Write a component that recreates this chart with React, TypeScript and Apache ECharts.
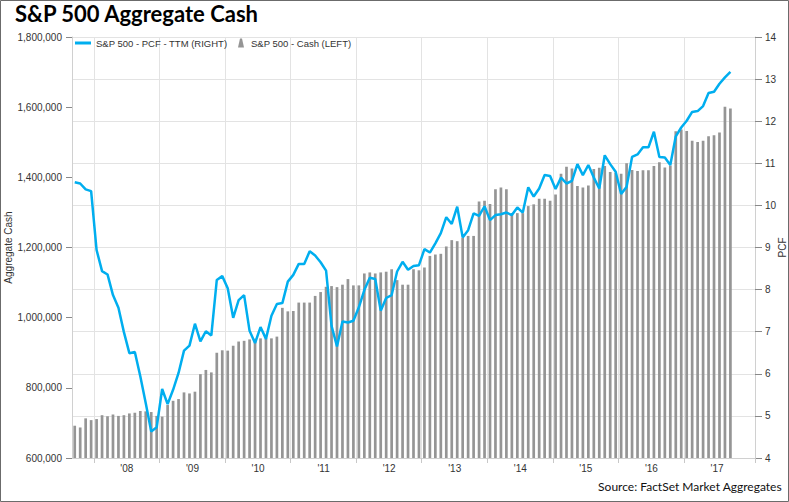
import React, { useEffect, useRef } from "react";
import * as echarts from "echarts";

// ---- Data ----
const START_YEAR = 2007;
const START_MONTH = 8; // 0-based: September 2007
const CATEGORY_COUNT = 125; // 121 monthly observations + padding to axis end

const months: string[] = [];
for (let i = 0; i < CATEGORY_COUNT; i++) {
  const m = (START_MONTH + i) % 12;
  const y = START_YEAR + Math.floor((START_MONTH + i) / 12);
  months.push(`${y}-${String(m + 1).padStart(2, "0")}`);
}

const yearLabels: Record<string, string> = {
  "2008": "'08", "2009": "'09", "2010": "'10", "2011": "'11", "2012": "'12",
  "2013": "'13", "2014": "'14", "2015": "'15", "2016": "'16", "2017": "'17",
};

const cashLeft: number[] = [
  692000, 687000, 713000, 708000, 711000, 722000, 719000, 724000, 720000, 722000,
  727000, 729000, 734000, 733000, 731000, 720000, 718000, 751000, 763000, 768000,
  787000, 784000, 789000, 839000, 851000, 844000, 900000, 907000, 906000, 920000,
  932000, 934000, 938000, 940000, 941000, 941000, 941000, 946000, 1028000, 1018000,
  1019000, 1043000, 1043000, 1043000, 1062000, 1073000, 1088000, 1090000, 1087000,
  1094000, 1110000, 1092000, 1092000, 1126000, 1129000, 1126000, 1129000, 1131000, 1138000,
  1107000, 1094000, 1094000, 1138000, 1135000, 1143000,
  1176000, 1180000, 1182000, 1203000, 1221000, 1218000, 1228000, 1233000, 1233000,
  1331000, 1333000, 1324000, 1366000, 1371000, 1366000,
  1295000, 1298000, 1298000, 1318000, 1323000, 1339000, 1339000,
  1333000, 1351000, 1410000, 1430000, 1425000, 1375000, 1371000, 1377000, 1424000, 1427000, 1432000,
  1415000, 1413000, 1410000, 1440000, 1421000, 1418000, 1420000, 1420000, 1432000, 1443000, 1428000, 1434000,
  1531000, 1536000, 1532000, 1504000, 1501000, 1504000, 1517000, 1520000, 1528000, 1601000, 1596000,
];

const pcfRight: number[] = [
  10.55, 10.52, 10.38, 10.34, 8.94, 8.44, 8.36, 7.87, 7.57, 6.99,
  6.49, 6.52, 5.94, 5.30, 4.63, 4.73, 5.64, 5.28, 5.62, 6.02,
  6.55, 6.67, 7.19, 6.77, 7.01, 6.91, 8.23, 8.32, 8.03, 7.33,
  7.75, 7.87, 7.02, 6.73, 7.11, 6.83, 7.38, 7.66, 7.68, 8.19,
  8.35, 8.61, 8.61, 8.91, 8.81, 8.65, 8.45, 7.14, 6.65, 7.24,
  7.22, 7.26, 7.58, 7.99, 8.28, 8.25, 7.50, 7.80, 7.87, 8.43,
  8.66, 8.47, 8.56, 8.58, 8.96, 8.88, 9.10, 9.34, 9.72, 9.56,
  9.97, 9.24, 9.41, 9.81, 9.75, 9.98, 9.65, 9.77, 9.79, 9.83,
  9.77, 9.95, 9.83, 10.43, 10.21, 10.40, 10.72, 10.70, 10.39, 10.66,
  10.52, 10.58, 10.98, 10.72, 10.96, 10.66, 10.40, 11.19, 10.98, 10.80,
  10.27, 10.44, 11.15, 11.21, 11.38, 11.38, 11.75, 11.15, 11.14, 10.96,
  11.64, 11.85, 12.01, 12.22, 12.24, 12.36, 12.67, 12.70, 12.89, 13.04,
  13.17,
];

const LINE_NAME = "S&P 500 - PCF - TTM (RIGHT)";
const BAR_NAME = "S&P 500 - Cash (LEFT)";
const TITLE = "S&P 500 Aggregate Cash";
const SOURCE = "Source: FactSet Market Aggregates";

const isYearStart = (i: number) => {
  const c = months[i];
  return !!c && c.endsWith("-01") && yearLabels[c.slice(0, 4)] !== undefined;
};
const isMidYear = (i: number) => {
  const c = months[i];
  return !!c && c.endsWith("-07") && yearLabels[c.slice(0, 4)] !== undefined;
};

const FONT = "'Liberation Sans', Arial, sans-serif";
const TITLE_FONT = "Lato, 'Open Sans', sans-serif";
const GRID = "#e3e3e3";

export default function App() {
  const ref = useRef<HTMLDivElement>(null);
  useEffect(() => {
    if (!ref.current) return;
    const chart = echarts.init(ref.current, undefined, { renderer: "svg" });
    chart.setOption({
      animation: false,
      backgroundColor: "#ffffff",
      title: [
        {
          text: TITLE,
          left: 15,
          top: 2,
          padding: 0,
          textStyle: { fontFamily: TITLE_FONT, fontWeight: "bold", fontSize: 22, color: "#000" },
        },
        {
          text: SOURCE,
          right: 7,
          top: 480,
          padding: 0,
          textStyle: { fontFamily: TITLE_FONT, fontWeight: "normal", fontSize: 12, color: "#111" },
        },
      ],
      graphic: [
        {
          type: "rect",
          shape: { x: 0.5, y: 0.5, width: 788, height: 501 },
          style: { fill: "none", stroke: "#6b6b6b", lineWidth: 1 },
          silent: true,
        },
      ],
      legend: [
        {
          left: 75,
          top: 38,
          padding: 0,
          data: [{ name: LINE_NAME, icon: "rect" }],
          itemWidth: 16,
          itemHeight: 3,
          textStyle: { fontFamily: FONT, fontSize: 9.5, color: "#333" },
        },
        {
          left: 238,
          top: 38,
          padding: 0,
          data: [{ name: BAR_NAME, icon: "path://M2,0 L4,0 L6,9 L0,9 Z" }],
          itemWidth: 10,
          itemHeight: 9,
          textStyle: { fontFamily: FONT, fontSize: 9.5, color: "#333" },
        },
      ],
      grid: { left: 72, right: 34, top: 37, bottom: 44, containLabel: false, outerBoundsMode: "none" },
      xAxis: {
        type: "category",
        data: months,
        boundaryGap: true,
        axisLine: { show: true, lineStyle: { color: "#d0d0d0" } },
        axisTick: { show: true, length: 5, interval: (i: number) => isYearStart(i), lineStyle: { color: "#c8c8c8" } },
        splitLine: { show: true, interval: (i: number) => isYearStart(i), lineStyle: { color: GRID } },
        axisLabel: {
          interval: (i: number) => isMidYear(i),
          formatter: (v: string) => yearLabels[v.slice(0, 4)] || "",
          fontFamily: FONT,
          fontSize: 10,
          color: "#333",
          margin: 5,
          padding: [0, 5, 0, 0],
        },
      },
      yAxis: [
        {
          type: "value",
          min: 600000,
          max: 1800000,
          interval: 200000,
          name: "Aggregate Cash",
          nameLocation: "middle",
          nameGap: 59,
          nameRotate: 90,
          nameMoveOverlap: false,
          nameTextStyle: { fontFamily: FONT, fontSize: 10, color: "#333" },
          axisLine: { show: true, lineStyle: { color: "#d0d0d0" } },
          axisTick: { show: true, length: 6, lineStyle: { color: "#888" } },
          splitLine: { show: false },
          axisLabel: {
            fontFamily: FONT,
            fontSize: 10,
            color: "#333",
            margin: 10,
            formatter: (v: number) => v.toLocaleString("en-US"),
          },
        },
        {
          type: "value",
          min: 4,
          max: 14,
          interval: 1,
          position: "right",
          name: "PCF",
          nameLocation: "middle",
          nameGap: 22,
          nameRotate: 90,
          nameMoveOverlap: false,
          nameTextStyle: { fontFamily: FONT, fontSize: 10, color: "#333" },
          axisLine: { show: true, lineStyle: { color: "#d0d0d0" } },
          axisTick: { show: true, length: 7, lineStyle: { color: "#888" } },
          splitLine: { show: true, lineStyle: { color: GRID } },
          axisLabel: { fontFamily: FONT, fontSize: 10, color: "#333", margin: 10 },
        },
      ],
      series: [
        {
          name: LINE_NAME,
          type: "line",
          yAxisIndex: 1,
          data: pcfRight,
          symbol: "none",
          lineStyle: { color: "#00aeef", width: 2.5 },
          itemStyle: { color: "#00aeef" },
          z: 5,
        },
        {
          name: BAR_NAME,
          type: "bar",
          yAxisIndex: 0,
          data: cashLeft,
          barWidth: 2.7,
          itemStyle: { color: "#959595" },
          z: 2,
        },
      ],
    });
    return () => chart.dispose();
  }, []);
  return (
    <div
      ref={ref}
      style={{ position: "absolute", left: 0, top: 0, width: 789, height: 502 }}
    />
  );
}
